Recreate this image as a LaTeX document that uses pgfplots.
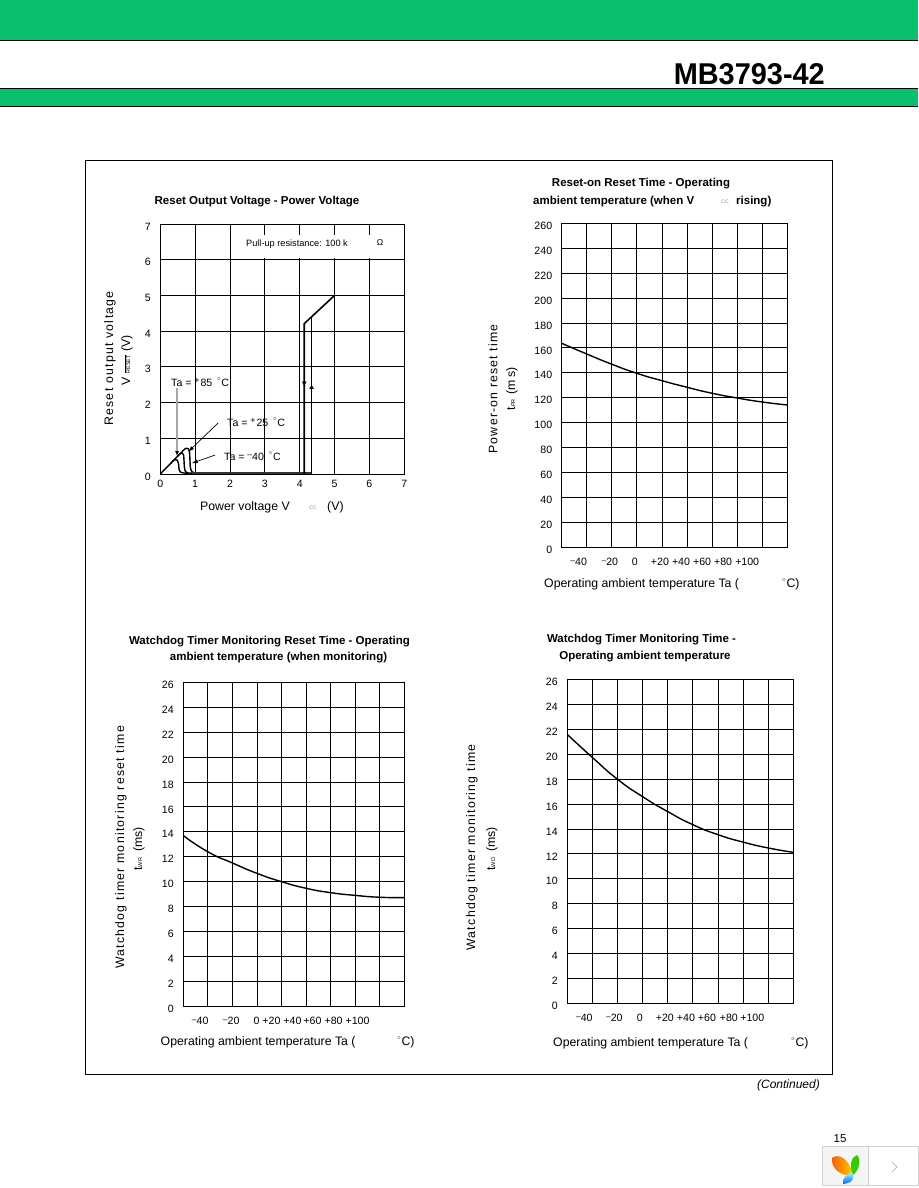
\documentclass[border=0pt]{standalone}
\usepackage{fontspec}
\usepackage{pgfplots}
\usepackage{graphicx}
\usetikzlibrary{arrows.meta}
\pgfplotsset{compat=1.18}
\setmainfont{Liberation Sans}
\definecolor{hdr}{RGB}{10,191,110}
\newcommand\um{\raisebox{.42ex}{\scalebox{.8}[.8]{–}}}
\newcommand\up{\raisebox{.42ex}{\scalebox{.85}{+}}\hspace{.8pt}}
\newcommand\dg{\raisebox{.5ex}{\footnotesize$^\circ$}}
\newcommand\fa{\fontsize{10.6}{12}\selectfont}
\newcommand\fb{\fontsize{12.3}{14}\selectfont}
\newcommand\ft{\fontsize{11.5}{13}\selectfont\bfseries}
\newcommand\ls[2]{{\addfontfeature{LetterSpace=#1}#2}}
\newcommand\sub[1]{{\fontsize{5.5}{6}\selectfont #1}}
\pgfplotsset{
  base/.style={
    scale only axis, axis line style={black,line width=.9pt},
    grid=major, major grid style={black,line width=.9pt},
    major tick length=0pt, axis on top=false,
    tick label style={font=\fa},
    /pgf/number format/assume math mode=true,
    yticklabel style={yshift=-2.5pt,xshift=-6pt},
  },
  temp/.style={base,
    xmin=-60,xmax=120,xtick={-60,-40,...,120},xticklabels={},
    extra x tick style={grid=none,major tick length=0pt,
      xticklabel style={yshift=-7.5pt}},
    extra x tick labels={{\um40},{\um20},0,+20,+40,+60,+80,+100},
    ymin=0,
  },
}
\pgfplotstableread{
x y
-60 163.7
-40 155.1
-20 146.9
0 139.6
20 133.7
40 128.4
60 123.6
80 119.8
100 116.6
120 114.2
}\tpr
\pgfplotstableread{
x y
-60 13.7
-40 12.4
-20 11.5
0 10.67
20 10.0
40 9.47
60 9.12
80 8.9
100 8.75
120 8.72
}\twr
\pgfplotstableread{
x y
-60 21.6
-40 19.75
-20 18.0
0 16.6
20 15.4
40 14.35
60 13.55
80 12.95
100 12.48
120 12.13
}\twd
\begin{document}
\begin{tikzpicture}[x=1pt,y=1pt]
\path[use as bounding box] (0,0) rectangle (918,1188);
\fill[white] (0,0) rectangle (918,1188);
% header
\fill[hdr] (0,1148) rectangle (918,1188);
\draw[black,line width=1pt] (0,1147.5)--(918,1147.5);
\fill[hdr] (0,1082) rectangle (918,1099);
\draw[black,line width=1pt] (0,1099)--(918,1099);
\draw[black,line width=1pt] (0,1081.7)--(918,1081.7);
\node[anchor=east,inner sep=0] at (825,1113.5) {\resizebox{151pt}{21pt}{\bfseries MB3793-42}};
% frame
\draw[black,line width=.9pt] (85.5,114) rectangle (832.5,1028);

% chart 1
\begin{axis}[base,at={(160.3pt,714pt)},anchor=south west,width=244pt,height=250pt,
  xmin=0,xmax=7,ymin=0,ymax=7,xtick={0,...,7},ytick={0,...,7},
  xticklabel style={yshift=-3pt},clip=true]
\addplot[black,line width=1.4pt,smooth,tension=.35] coordinates {(0,0)(0.3,0.3)(0.37,0.37)(0.42,0.40)(0.48,0.39)(0.52,0.3)(0.54,0.12)(0.58,0.05)(0.66,0.03)(0.8,0.02)};
\addplot[black,line width=1.4pt,smooth,tension=.35] coordinates {(0.3,0.3)(0.5,0.5)(0.56,0.57)(0.62,0.59)(0.67,0.52)(0.69,0.2)(0.72,0.07)(0.8,0.03)(0.95,0.02)};
\addplot[black,line width=1.4pt,smooth,tension=.35] coordinates {(0.5,0.5)(0.65,0.65)(0.73,0.72)(0.8,0.71)(0.84,0.6)(0.86,0.2)(0.9,0.07)(0.98,0.03)(1.1,0.02)};
\addplot[black!80,line width=1.7pt] coordinates {(0.9,0.03)(4.34,0.03)};
\addplot[black,line width=1.6pt] coordinates {(4.13,0)(4.13,4.21)(5,5)};
\addplot[black,line width=1.8pt] coordinates {(4.34,0.02)(4.34,4.42)};
\addplot[only marks,mark=triangle*,mark size=2.2pt,mark options={black,rotate=180}] coordinates {(4.13,2.55)};
\addplot[only marks,mark=triangle*,mark size=2.2pt,mark options={black}] coordinates {(4.34,2.42)};
\addplot[gray!70,line width=1.1pt,-{Latex[black,length=5pt,width=4pt]}] coordinates {(0.48,2.4)(0.48,0.5)};
\addplot[black,line width=.7pt,-{Latex[length=6pt,width=4pt]}] coordinates {(1.66,1.43)(0.8,0.62)};
\addplot[black,line width=.7pt,-{Latex[length=6pt,width=4pt]}] coordinates {(1.57,0.53)(0.9,0.3)};
\end{axis}

% chart 2
\begin{axis}[temp,at={(561.7pt,640.7pt)},anchor=south west,width=225.6pt,height=324pt,
  ymax=260,ytick={0,20,...,260},
  extra x ticks={-46.4,-21.6,-1.6,18.4,35.2,52,68.8,88}]
\addplot[black,line width=1.4pt,smooth,tension=1] table[x=x,y=y] {\tpr};
\end{axis}

% chart 3
\begin{axis}[temp,at={(183.3pt,181.7pt)},anchor=south west,width=221pt,height=324pt,
  ymax=26,ytick={0,2,...,26},
  extra x ticks={-46.2,-21,-0.4,11.8,28.9,45.2,62.4,81.9}]
\addplot[black,line width=1.4pt,smooth,tension=1] table[x=x,y=y] {\twr};
\end{axis}

% chart 4
\begin{axis}[temp,at={(567.3pt,184.7pt)},anchor=south west,width=226pt,height=323.6pt,
  ymax=26,ytick={0,2,...,26},
  extra x ticks={-46.4,-22.5,-2.3,17.7,34.5,51.2,68.7,87.3}]
\addplot[black,line width=1.4pt,smooth,tension=1] table[x=x,y=y] {\twd};
\end{axis}

% white patch in chart 1
\fill[white] (239,929.5) rectangle (403.3,953);
\node[anchor=west,inner sep=0,font=\fontsize{9.2}{11}\selectfont] at (246,944) {Pull-up resistance: 100 k};
\node[anchor=center,inner sep=0,font=\fontsize{8.5}{9}\selectfont] at (380,945) {Ω};

% chart 1 annotations
\tikzset{ann/.style={anchor=west,inner sep=0,font=\fa}}
\node[ann] at (171,806) {Ta = \up85\, \dg C};
\node[ann] at (227,766) {Ta = \up25\, \dg C};
\node[ann] at (224,732) {Ta = \um40\, \dg C};

% titles
\tikzset{tt/.style={inner sep=0,font=\ft}}
\node[tt] at (257,986.5) {Reset Output Voltage - Power Voltage};
\node[tt] at (641,1004.5) {Reset-on Reset Time - Operating};
\node[tt,anchor=west] at (533,986.5) {ambient temperature (when V};
\node[anchor=center,inner sep=0,font=\fontsize{5}{6}\selectfont,gray] at (725,986.5) {CC};
\node[tt,anchor=west] at (736,986.5) {rising)};
\node[tt] at (269.5,546.5) {Watchdog Timer Monitoring Reset Time - Operating};
\node[tt] at (278.5,530.5) {ambient temperature (when monitoring)};
\node[tt] at (641.5,548.5) {Watchdog Timer Monitoring Time -};
\node[tt] at (645,531.5) {Operating ambient temperature};

% x labels
\tikzset{xl/.style={anchor=west,inner sep=0,font=\fb}}
\node[xl] at (200,681) {Power voltage V};
\node[anchor=center,inner sep=0,font=\fontsize{5}{6}\selectfont,gray] at (313,680) {CC};
\node[xl] at (327,681) {(V)};
\node[xl] at (544,604) {Operating ambient temperature Ta (};
\node[xl] at (782,604) {\dg C)};
\node[xl] at (160.5,146) {Operating ambient temperature Ta (};
\node[xl] at (397,146) {\dg C)};
\node[xl] at (553,145) {Operating ambient temperature Ta (};
\node[xl] at (791,145) {\dg C)};

% y labels
\tikzset{yl/.style={rotate=90,inner sep=0,font=\fb}}
\node[yl] at (110,829.5) {\ls{10.4}{Reset output voltage}};
\node[yl] at (127,827.5) {V\,\,$\overline{\mbox{\sub{RESET}}}$ (V)};
\node[yl] at (493,799) {\ls{9.6}{Power-on reset time}};
\node[yl] at (512,799) {t\sub{PR}\hspace{5pt}(m\,s)};
\node[yl] at (121,340.5) {\ls{10.2}{Watchdog timer monitoring reset time}};
\node[yl] at (139,339) {t\sub{WR}\hspace{6pt}(ms)};
\node[yl] at (472,340.5) {\ls{10.3}{Watchdog timer monitoring time}};
\node[yl] at (492,339) {t\sub{WD}\hspace{6pt}(ms)};

% footer
\node[anchor=east,inner sep=0,font=\fontsize{12}{13}\selectfont\itshape] at (820,102.5) {(Continued)};
\node[anchor=center,inner sep=0,font=\fontsize{11.5}{13}\selectfont] at (840,49) {15};
\fill[black!4] (822.5,3) rectangle (868,42);
\draw[black!18,line width=.8pt] (822.5,3) rectangle (918.5,42) (868,3)--(868,42);
\draw[black!30,line width=.7pt] (892,26)--(897,21)--(892,16);
\shade[left color=orange!70!red,right color=yellow!60!orange] (832,30) .. controls (838,35) and (850,30) .. (853,12) .. controls (842,12) and (831,18) .. (832,30);
\fill[green!60!olive] (857,33) .. controls (851,31) and (849,22) .. (853,13) .. controls (858,16) and (862,28) .. (857,33);
\shade[top color=cyan!40,bottom color=blue!60!cyan] (852,16) .. controls (855,10) and (853,5) .. (843,4) .. controls (842,9) and (846,14) .. (852,16);
\end{tikzpicture}
\end{document}
